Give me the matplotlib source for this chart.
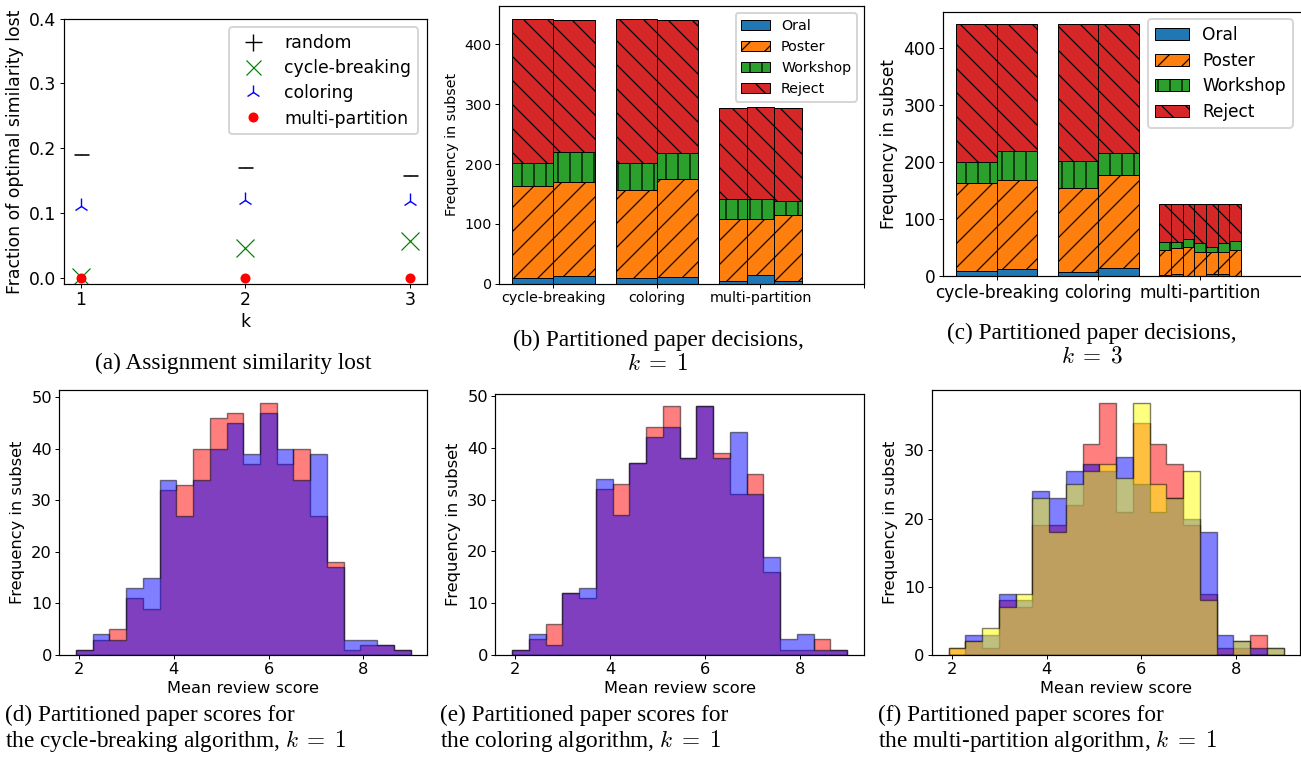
import numpy as np
import matplotlib
matplotlib.use('Agg')
import matplotlib.pyplot as plt
from matplotlib.lines import Line2D

# ---------------- data ----------------
k_values = [1, 2, 3]
random_loss = [0.190, 0.171, 0.158]
random_err = [0.0008, 0.0008, 0.0004]
cycle_loss = [0.002, 0.046, 0.057]
coloring_loss = [0.111, 0.120, 0.118]
multi_loss = [0.0, 0.0, 0.0]

algorithms = ['cycle-breaking', 'coloring', 'multi-partition']
decisions = ['Oral', 'Poster', 'Workshop', 'Reject']

# counts per partition: [Oral, Poster, Workshop, Reject]
k1_cycle = [[9, 154, 39, 240], [13, 157, 50, 221]]
k1_coloring = [[9, 147, 46, 240], [12, 163, 44, 222]]
k1_multi = [[4, 104, 33, 153], [14, 94, 33, 154], [4, 111, 24, 155]]

k3_cycle = [[9, 154, 38, 241], [13, 156, 50, 223]]
k3_coloring = [[7, 147, 49, 239], [15, 162, 39, 226]]
k3_multi = [[2, 45, 14, 65], [4, 46, 11, 65], [1, 51, 13, 61], [1, 42, 15, 68],
            [4, 39, 8, 75], [4, 38, 16, 68], [1, 46, 15, 65]]

score_min, score_max, n_bins = 1.935, 9.0, 20
cycle_hist_a = [1, 3, 5, 11, 9, 32, 33, 40, 46, 47, 37, 49, 37, 40, 27, 18, 1, 2, 2, 1]
cycle_hist_b = [1, 4, 3, 13, 15, 34, 27, 34, 40, 45, 39, 47, 40, 34, 39, 17, 3, 3, 2, 1]
coloring_hist_a = [1, 3, 6, 12, 11, 32, 33, 37, 44, 48, 38, 48, 39, 31, 35, 16, 1, 1, 3, 1]
coloring_hist_b = [1, 4, 2, 12, 13, 34, 27, 37, 42, 44, 38, 48, 38, 43, 31, 19, 3, 4, 1, 1]
multi_hist_a = [1, 2, 1, 8, 7, 19, 19, 22, 31, 37, 21, 34, 31, 28, 19, 9, 1, 1, 3, 0]
multi_hist_b = [0, 3, 3, 9, 8, 24, 23, 27, 28, 27, 29, 25, 21, 23, 20, 18, 3, 2, 1, 1]
multi_hist_c = [1, 2, 4, 7, 9, 23, 18, 25, 27, 28, 26, 37, 25, 23, 27, 8, 0, 2, 0, 1]

# ---------------- figure ----------------
W, H = 1301, 771
DPI = 144
plt.rcParams['hatch.linewidth'] = 0.6
plt.rcParams['mathtext.fontset'] = 'cm'
fig = plt.figure(figsize=(W / DPI, H / DPI), dpi=DPI)


def add_ax(l, t, r, b):
    return fig.add_axes([l / W, 1 - b / H, (r - l) / W, (b - t) / H])


def style(ax, fs):
    ax.tick_params(labelsize=fs, length=2.2, width=0.5, pad=1.5)
    for s in ax.spines.values():
        s.set_linewidth(0.6)


# ---- (a) ----
ax = add_ax(64, 18.7, 427, 284)
ax.errorbar(k_values, random_loss, yerr=random_err, fmt='none', ecolor='k',
            elinewidth=0.4, capsize=3.75, capthick=0.4)
ax.plot(k_values, cycle_loss, ls='none', marker='x', color='green', ms=9, mew=0.6)
ax.plot(k_values, coloring_loss, ls='none', marker='2', color='blue', ms=7.6, mew=0.7)
ax.plot(k_values, multi_loss, ls='none', marker='o', color='red', ms=4)
ax.set_ylim(top=0.4)
ax.set_xticks(k_values)
ax.set_yticks([0.0, 0.1, 0.2, 0.3, 0.4])
ax.set_xlabel('k', fontsize=8.65, labelpad=2)
ax.set_ylabel('Fraction of optimal similarity lost', fontsize=8.65, labelpad=2.5)
style(ax, 8.65)
handles = [
    Line2D([], [], ls='none', marker='+', color='k', ms=8.5, mew=0.7, label='random'),
    Line2D([], [], ls='none', marker='x', color='green', ms=7.5, mew=0.6, label='cycle-breaking'),
    Line2D([], [], ls='none', marker='2', color='blue', ms=7.5, mew=0.7, label='coloring'),
    Line2D([], [], ls='none', marker='o', color='red', ms=4, label='multi-partition'),
]
ax.legend(handles=handles, loc='upper right', fontsize=8.65, labelspacing=0.41)

# ---- stacked bars ----
colors = ['tab:blue', 'tab:orange', 'tab:green', 'tab:red']
hatches = ['', '//', '||', '\\\\']


def stacked(ax, groups):
    xs, ws, rows = [], [], []
    for gi, parts in enumerate(groups):
        n = len(parts)
        w = 0.8 / n
        for j, p in enumerate(parts):
            xs.append(gi + (j - (n - 1) / 2) * w)
            ws.append(w)
            rows.append(p)
    rows = np.array(rows, dtype=float)
    bottom = np.zeros(len(rows))
    for ci in range(len(decisions)):
        ax.bar(xs, rows[:, ci], width=ws, bottom=bottom, color=colors[ci],
               hatch=hatches[ci], edgecolor='k', linewidth=0.5, label=decisions[ci])
        bottom += rows[:, ci]


# (b)
ax = add_ax(499.3, 6, 864, 283.7)
stacked(ax, [k1_cycle, k1_coloring, k1_multi])
ax.set_xlim(-0.523, 3.0)
ax.set_xticks([0, 1, 2, 3])
ax.set_xticklabels(algorithms + [''])
ax.set_ylabel('Frequency in subset', fontsize=7.1, labelpad=3)
style(ax, 7.1)
ax.legend(loc='upper right', fontsize=7.1, labelspacing=0.5)

# (c)
ax = add_ax(943.3, 11.7, 1312, 276.3)
stacked(ax, [k3_cycle, k3_coloring, k3_multi])
ax.set_xlim(-0.525, 3.1)
ax.set_xticks([0, 1, 2, 3])
ax.set_xticklabels(algorithms + [''])
ax.set_ylabel('Frequency in subset', fontsize=8.5, labelpad=3)
style(ax, 8.5)
ax.legend(loc='upper left', bbox_to_anchor=(0.555, 0.972), borderaxespad=0,
          fontsize=8.5, labelspacing=0.45)

# ---- histograms ----
edges = np.linspace(score_min, score_max, n_bins + 1)
centers = (edges[:-1] + edges[1:]) / 2


def hists(ax, series, cols):
    for counts, c in zip(series, cols):
        ax.hist(centers, bins=edges, weights=counts, histtype='stepfilled',
                color=c, alpha=0.5, edgecolor='k', linewidth=0.7)
    ax.set_xlabel('Mean review score', fontsize=8.15, labelpad=2)
    ax.set_ylabel('Frequency in subset', fontsize=8.15, labelpad=3)
    ax.set_xticks([2, 4, 6, 8])
    style(ax, 8.15)


ax = add_ax(59.3, 390, 427.3, 655)
hists(ax, [cycle_hist_a, cycle_hist_b], ['red', 'blue'])
ax.set_yticks([0, 10, 20, 30, 40, 50])
ax = add_ax(495.3, 394, 864, 655)
hists(ax, [coloring_hist_a, coloring_hist_b], ['red', 'blue'])
ax.set_yticks([0, 10, 20, 30, 40, 50])
ax = add_ax(932, 390, 1300.3, 655)
hists(ax, [multi_hist_a, multi_hist_b, multi_hist_c], ['red', 'blue', 'yellow'])
ax.set_yticks([0, 10, 20, 30])

# ---- captions ----
cap = dict(fontsize=11.6, family='Liberation Serif', va='center')


def ftext(x, y, s, ha):
    fig.text(x / W, 1 - y / H, s, ha=ha, **cap)


ftext(233, 363, '(a) Assignment similarity lost', 'center')
ftext(658, 340, '(b) Partitioned paper decisions,', 'center')
ftext(658, 364, r'$k\;=\;1$', 'center')
ftext(1092, 333, '(c) Partitioned paper decisions,', 'center')
ftext(1092, 357, r'$k\;=\;3$', 'center')
ftext(5, 715, '(d) Partitioned paper scores for', 'left')
ftext(5, 741, r'the cycle-breaking algorithm, $k\;=\;1$', 'left')
ftext(440, 715, '(e) Partitioned paper scores for', 'left')
ftext(440, 741, r'the coloring algorithm, $k\;=\;1$', 'left')
ftext(878, 715, '(f) Partitioned paper scores for', 'left')
ftext(878, 741, r'the multi-partition algorithm, $k\;=\;1$', 'left')

fig.savefig('out.png', dpi=DPI)
